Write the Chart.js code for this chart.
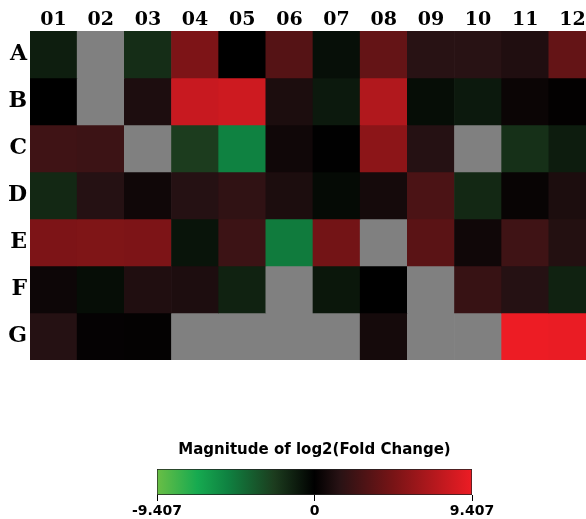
<!DOCTYPE html>
<html>
<head>
<meta charset="utf-8">
<script src="https://cdn.jsdelivr.net/npm/chart.js@4.4.1/dist/chart.umd.min.js"></script>
<style>
  html, body { margin: 0; padding: 0; background: #fff; overflow: hidden; }
  #wrap { position: relative; width: 586px; height: 519px; overflow: hidden; }
  #heatBox { position: absolute; left: 0; top: 0; width: 596px; height: 360px; }
  #barBox { position: absolute; left: 0; top: 430px; width: 586px; height: 89px; }
</style>
</head>
<body>
<div id="wrap">
  <div id="heatBox"><canvas id="heatChart"></canvas></div>
  <div id="barBox"><canvas id="scaleChart"></canvas></div>
</div>
<script>
// columns and rows of the plate
const columns = ['01', '02', '03', '04', '05', '06', '07', '08', '09', '10', '11', '12'];
const rows = ['A', 'B', 'C', 'D', 'E', 'F', 'G'];

// log2 fold change per well, null = no data (gray)
const rowA = [-1.2, null, -1.8, 4.9, 0, 3.3, -0.6, 3.9, 1.5, 1.5, 1.2, 3.9];
const rowB = [0, null, 1.1, 7.9, 8.1, 1.05, -1.0, 7.0, -0.5, -1.0, 0.4, 0.1];
const rowC = [2.4, 2.3, null, -2.4, -5.2, 0.6, 0.05, 5.5, 1.4, null, -1.9, -1.1];
const rowD = [-1.6, 1.4, 0.6, 1.4, 1.8, 1.05, -0.4, 0.8, 2.9, -1.6, 0.3, 1.05];
const rowE = [4.9, 5.0, 4.9, -0.8, 2.3, -4.9, 4.5, null, 3.5, 0.6, 2.4, 1.3];
const rowF = [0.5, -0.5, 1.2, 1.1, -1.35, null, -0.9, 0, null, 2.1, 1.4, -1.35];
const rowG = [1.4, 0.2, 0.15, null, null, null, null, 0.8, null, null, 9.407, 9.3];
const values = [rowA, rowB, rowC, rowD, rowE, rowF, rowG];

const scaleMin = -9.407;
const scaleMax = 9.407;
const scaleTicks = [-9.407, 0, 9.407];

// colour map stops (value -> rgb)
const stops = [
  [-9.407, [106, 190, 69]],
  [-7.0, [22, 170, 80]],
  [-5.2, [15, 130, 65]],
  [-2.4, [28, 60, 30]],
  [0, [0, 0, 0]],
  [1.5, [40, 18, 20]],
  [4.7, [120, 20, 22]],
  [9.407, [237, 28, 36]]
];
const missingColor = 'rgb(128,128,128)';

function colorFor(v) {
  if (v === null) return missingColor;
  if (v <= stops[0][0]) return 'rgb(' + stops[0][1].join(',') + ')';
  for (let k = 1; k < stops.length; k++) {
    if (v <= stops[k][0]) {
      const a = stops[k - 1], b = stops[k];
      const t = (v - a[0]) / (b[0] - a[0]);
      const c = a[1].map((x, n) => Math.round(x + (b[1][n] - x) * t));
      return 'rgb(' + c.join(',') + ')';
    }
  }
  return 'rgb(' + stops[stops.length - 1][1].join(',') + ')';
}

document.addEventListener("DOMContentLoaded", function () {

  // heat map: one floating bar per well
  const datasets = rows.map((r, i) => ({
    label: r,
    data: columns.map(() => [i, i + 1]),
    backgroundColor: values[i].map(colorFor),
    borderWidth: 0,
    barPercentage: 1,
    categoryPercentage: 1,
    grouped: false
  }));

  new Chart(document.getElementById('heatChart'), {
    type: 'bar',
    data: { labels: columns, datasets },
    options: {
      responsive: true,
      maintainAspectRatio: false,
      animation: false,
      layout: { padding: 0 },
      plugins: { legend: { display: false }, tooltip: { enabled: false } },
      scales: {
        x: {
          position: 'top',
          grid: { display: false, drawTicks: false },
          border: { display: false },
          ticks: {
            color: '#000',
            padding: 0,
            maxRotation: 0,
            font: { family: 'DejaVu Serif', size: 19, weight: 'bold' }
          },
          afterFit: function (scale) {
            scale.height = 31;
            scale.paddingLeft = 0;
            scale.paddingRight = 0;
          }
        },
        y: {
          min: 0,
          max: 7,
          reverse: true,
          grid: { display: false, drawTicks: false },
          border: { display: false },
          afterBuildTicks: function (scale) {
            scale.ticks = rows.map((r, i) => ({ value: i + 0.5 }));
          },
          ticks: {
            color: '#000',
            padding: 3,
            font: { family: 'DejaVu Serif', size: 22, weight: 'bold' },
            callback: function (v) { return rows[Math.floor(v)]; }
          },
          afterFit: function (scale) {
            scale.width = 30;
            scale.paddingTop = 0;
            scale.paddingBottom = 0;
          }
        }
      }
    }
  });

  // colour scale
  new Chart(document.getElementById('scaleChart'), {
    type: 'bar',
    data: {
      labels: [''],
      datasets: [{
        data: [[scaleMin, scaleMax]],
        backgroundColor: function (ctx) {
          const area = ctx.chart.chartArea;
          if (!area) return '#000';
          const g = ctx.chart.ctx.createLinearGradient(area.left, 0, area.right, 0);
          stops.forEach(s => {
            g.addColorStop((s[0] - scaleMin) / (scaleMax - scaleMin), 'rgb(' + s[1].join(',') + ')');
          });
          return g;
        },
        borderColor: '#222',
        borderWidth: 1,
        borderSkipped: false,
        barPercentage: 1,
        categoryPercentage: 1
      }]
    },
    options: {
      indexAxis: 'y',
      responsive: true,
      maintainAspectRatio: false,
      animation: false,
      layout: { padding: { left: 157, right: 114, top: 0, bottom: 0 } },
      plugins: {
        legend: { display: false },
        tooltip: { enabled: false },
        title: {
          display: true,
          text: 'Magnitude of log2(Fold Change)',
          color: '#000',
          font: { family: 'DejaVu Sans', size: 15, weight: 'bold', lineHeight: 1.2 },
          padding: { top: 11, bottom: 10 }
        }
      },
      scales: {
        x: {
          min: scaleMin,
          max: scaleMax,
          afterBuildTicks: function (scale) {
            scale.ticks = scaleTicks.map(v => ({ value: v }));
          },
          grid: { drawOnChartArea: false, drawTicks: true, tickLength: 6, color: '#000' },
          border: { display: false },
          ticks: {
            color: '#000',
            padding: 2,
            maxRotation: 0,
            autoSkip: false,
            font: { family: 'DejaVu Sans', size: 14, weight: 'bold' },
            callback: function (v) { return v === 0 ? '0' : v.toFixed(3); }
          },
          afterFit: function (scale) {
            scale.height = 24;
            scale.paddingLeft = 0;
            scale.paddingRight = 0;
          }
        },
        y: { display: false }
      }
    }
  });
});
</script>
</body>
</html>
